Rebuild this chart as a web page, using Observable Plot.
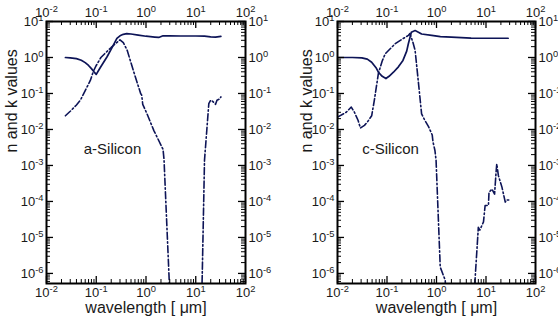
<!DOCTYPE html>
<html><head><meta charset="utf-8">
<script src="https://cdn.jsdelivr.net/npm/d3@7"></script>
<script src="https://cdn.jsdelivr.net/npm/@observablehq/plot@0.6"></script>
<style>
body{margin:0;background:#fff;}
#wrap{display:flex;width:558px;height:322px;overflow:hidden;}
#wrap svg{flex:none;overflow:hidden;}
</style></head><body><div id="wrap"></div>
<script>
// ---- tick labels / text ----
const xTickValues = [0.01, 0.1, 1, 10, 100];
const yTickValues = [1e-6, 1e-5, 1e-4, 1e-3, 1e-2, 1e-1, 1, 10];
const minorMultipliers = [2, 3, 4, 5, 6, 7, 8, 9];
const panelLabels = ["a-Silicon", "c-Silicon"];
const xTitle = "wavelength [ μm]";
const yTitle = "n and k values";

// ---- a-Silicon ----
const aSiNWavelength = [0.024,0.03,0.04,0.05,0.06,0.07,0.08,0.09,0.1,0.12,0.165,0.2,0.26,0.3,0.35,0.41,0.5,0.7,1.0,1.5,1.8,2.2,3,5,10,15,20,25,32];
const aSiN = [1.0,0.98,0.93,0.84,0.72,0.6,0.49,0.4,0.34,0.52,1.05,1.7,3.4,4.0,4.4,4.6,4.5,4.2,3.9,3.7,3.6,4.0,4.0,3.95,3.95,3.9,3.75,3.7,3.85];
const aSiKWavelength = [0.024,0.03,0.04,0.048,0.06,0.076,0.088,0.1,0.124,0.15,0.2,0.25,0.3,0.35,0.42,0.57,0.78,0.82,0.86,1.05,1.44,2.1,2.2,2.3,2.9,3.1,13,13.5,15,18.3,20,22,25,26.7,30,32];
const aSiK = [0.024,0.032,0.048,0.065,0.12,0.23,0.42,0.6,1.0,1.3,1.9,2.5,3.1,2.6,1.56,0.39,0.1,0.09,0.05,0.027,0.0093,0.0032,0.0028,0.0015,8.7e-7,1e-7,1e-7,8.7e-7,1.4e-3,0.052,0.065,0.06,0.05,0.065,0.07,0.08];

// ---- c-Silicon ----
const cSiNWavelength = [0.01,0.02,0.031,0.04,0.049,0.06,0.067,0.08,0.095,0.11,0.135,0.17,0.21,0.25,0.27,0.29,0.31,0.37,0.45,0.5,0.8,1.2,2.0,5,10,28];
const cSiN = [1.0,1.0,0.98,0.9,0.74,0.52,0.39,0.3,0.26,0.3,0.39,0.55,0.83,1.5,2.4,3.5,5.0,5.6,4.9,4.5,4.1,3.8,3.67,3.45,3.42,3.42];
const cSiKWavelength = [0.01,0.015,0.019,0.022,0.026,0.029,0.035,0.04,0.049,0.055,0.067,0.08,0.092,0.146,0.2,0.27,0.29,0.33,0.37,0.43,0.5,0.58,0.69,0.8,0.82,0.85,0.93,0.98,1.19,1.5,1.6,5.8,6.0,7.0,7.5,8.9,9.6,11.2,11.5,13.2,14.9,15.9,16.5,17.8,21,24.5,26,31];
const cSiK = [0.022,0.03,0.042,0.03,0.018,0.011,0.013,0.016,0.024,0.06,0.36,0.8,1.26,2.4,3.2,4.1,4.6,2.8,1.56,0.21,0.027,0.018,0.012,0.0076,0.007,0.0045,0.0026,1.4e-3,1.5e-6,6.5e-7,1e-7,1e-7,6.5e-7,1.9e-5,1.6e-5,2.7e-5,7.7e-5,7.7e-5,1.8e-4,2.2e-4,1.6e-4,5.9e-4,1.1e-3,5.2e-4,2.5e-4,9.6e-5,1.1e-4,1.1e-4];

const navy = "#0d1457";
const W = 279, H = 322, MT = 21, MB = 39;
const xMinor = xTickValues.slice(0, -1).flatMap(d => minorMultipliers.map(m => d * m));
const yMinor = [1e-7, ...yTickValues.slice(0, -1)].flatMap(d => minorMultipliers.map(m => d * m)).filter(v => v > 10 ** -6.28 && v < 10);
const fmt = d => "10^" + Math.round(Math.log10(d));

function panel({nw, n, kw, k, label, ml, mr, yTitleDx, labelDx}) {
  const innerW = W - ml - mr, innerH = H - MT - MB;
  const nData = nw.map((w, i) => ({w, v: n[i]}));
  const kData = kw.map((w, i) => ({w, v: k[i]}));
  const svg = Plot.plot({
    width: W, height: H,
    marginTop: MT, marginBottom: MB, marginLeft: ml, marginRight: mr,
    style: {fontFamily: "'Liberation Sans', Arial, sans-serif", fontSize: "13px", color: "#1a1a1a", background: "white", overflow: "hidden"},
    x: {type: "log", domain: [0.01, 100], label: null},
    y: {type: "log", domain: [10 ** -6.28, 10], label: null},
    marks: [
      Plot.line(nData, {x: "w", y: "v", stroke: navy, strokeWidth: 1.7, clip: true}),
      Plot.line(kData, {x: "w", y: "v", stroke: navy, strokeWidth: 1.6, strokeDasharray: "7,2.5,1.5,2.5", clip: true}),
      // inward ticks
      Plot.tickX(xTickValues, {insetTop: innerH - 7, stroke: "black", strokeWidth: 1.3}),
      Plot.tickX(xTickValues, {insetBottom: innerH - 7, stroke: "black", strokeWidth: 1.3}),
      Plot.tickX(xMinor, {insetTop: innerH - 4, stroke: "black", strokeWidth: 1}),
      Plot.tickX(xMinor, {insetBottom: innerH - 4, stroke: "black", strokeWidth: 1}),
      Plot.tickY(yTickValues, {insetRight: innerW - 7, stroke: "black", strokeWidth: 1.3}),
      Plot.tickY(yTickValues, {insetLeft: innerW - 7, stroke: "black", strokeWidth: 1.3}),
      Plot.tickY(yMinor, {insetRight: innerW - 4, stroke: "black", strokeWidth: 1}),
      Plot.tickY(yMinor, {insetLeft: innerW - 4, stroke: "black", strokeWidth: 1}),
      Plot.frame({stroke: "black", strokeWidth: 2}),
      Plot.axisX({anchor: "bottom", ticks: xTickValues, tickFormat: fmt, tickSize: 0, tickPadding: 4, label: null, fontSize: 13}),
      Plot.axisX({anchor: "top", ticks: xTickValues, tickFormat: fmt, tickSize: 0, tickPadding: 5, label: null, fontSize: 13}),
      Plot.axisY({anchor: "left", ticks: yTickValues, tickFormat: fmt, tickSize: 0, tickPadding: 3, label: null, fontSize: 13}),
      Plot.axisY({anchor: "right", ticks: yTickValues, tickFormat: fmt, tickSize: 0, tickPadding: 3, label: null, fontSize: 13}),
      Plot.text([xTitle], {frameAnchor: "bottom", dy: 18, lineAnchor: "top", fontSize: 16, fill: "#1a1a1a"}),
      Plot.text([yTitle], {frameAnchor: "left", dx: yTitleDx, rotate: -90, fontSize: 16, fill: "#1a1a1a"}),
      Plot.text([label], {frameAnchor: "top-left", dx: labelDx, dy: 122, textAnchor: "middle", fontSize: 15, fill: "#1a1a1a"})
    ]
  });
  const ns = "http://www.w3.org/2000/svg";
  svg.querySelectorAll("text").forEach(t => {
    const m = /^10\^(-?\d+)$/.exec(t.textContent);
    if (!m) return;
    t.textContent = "";
    const a = document.createElementNS(ns, "tspan");
    a.textContent = "10";
    const b = document.createElementNS(ns, "tspan");
    b.textContent = m[1];
    b.setAttribute("dy", "-0.5em");
    b.setAttribute("font-size", "0.72em");
    t.append(a, b);
  });
  return svg;
}

const wrap = document.getElementById("wrap");
wrap.append(
  panel({nw: aSiNWavelength, n: aSiN, kw: aSiKWavelength, k: aSiK, label: panelLabels[0], ml: 46, mr: 34, yTitleDx: -35, labelDx: 66}),
  panel({nw: cSiNWavelength, n: cSiN, kw: cSiKWavelength, k: cSiK, label: panelLabels[1], ml: 58, mr: 23, yTitleDx: -31, labelDx: 53})
);
</script></body></html>
